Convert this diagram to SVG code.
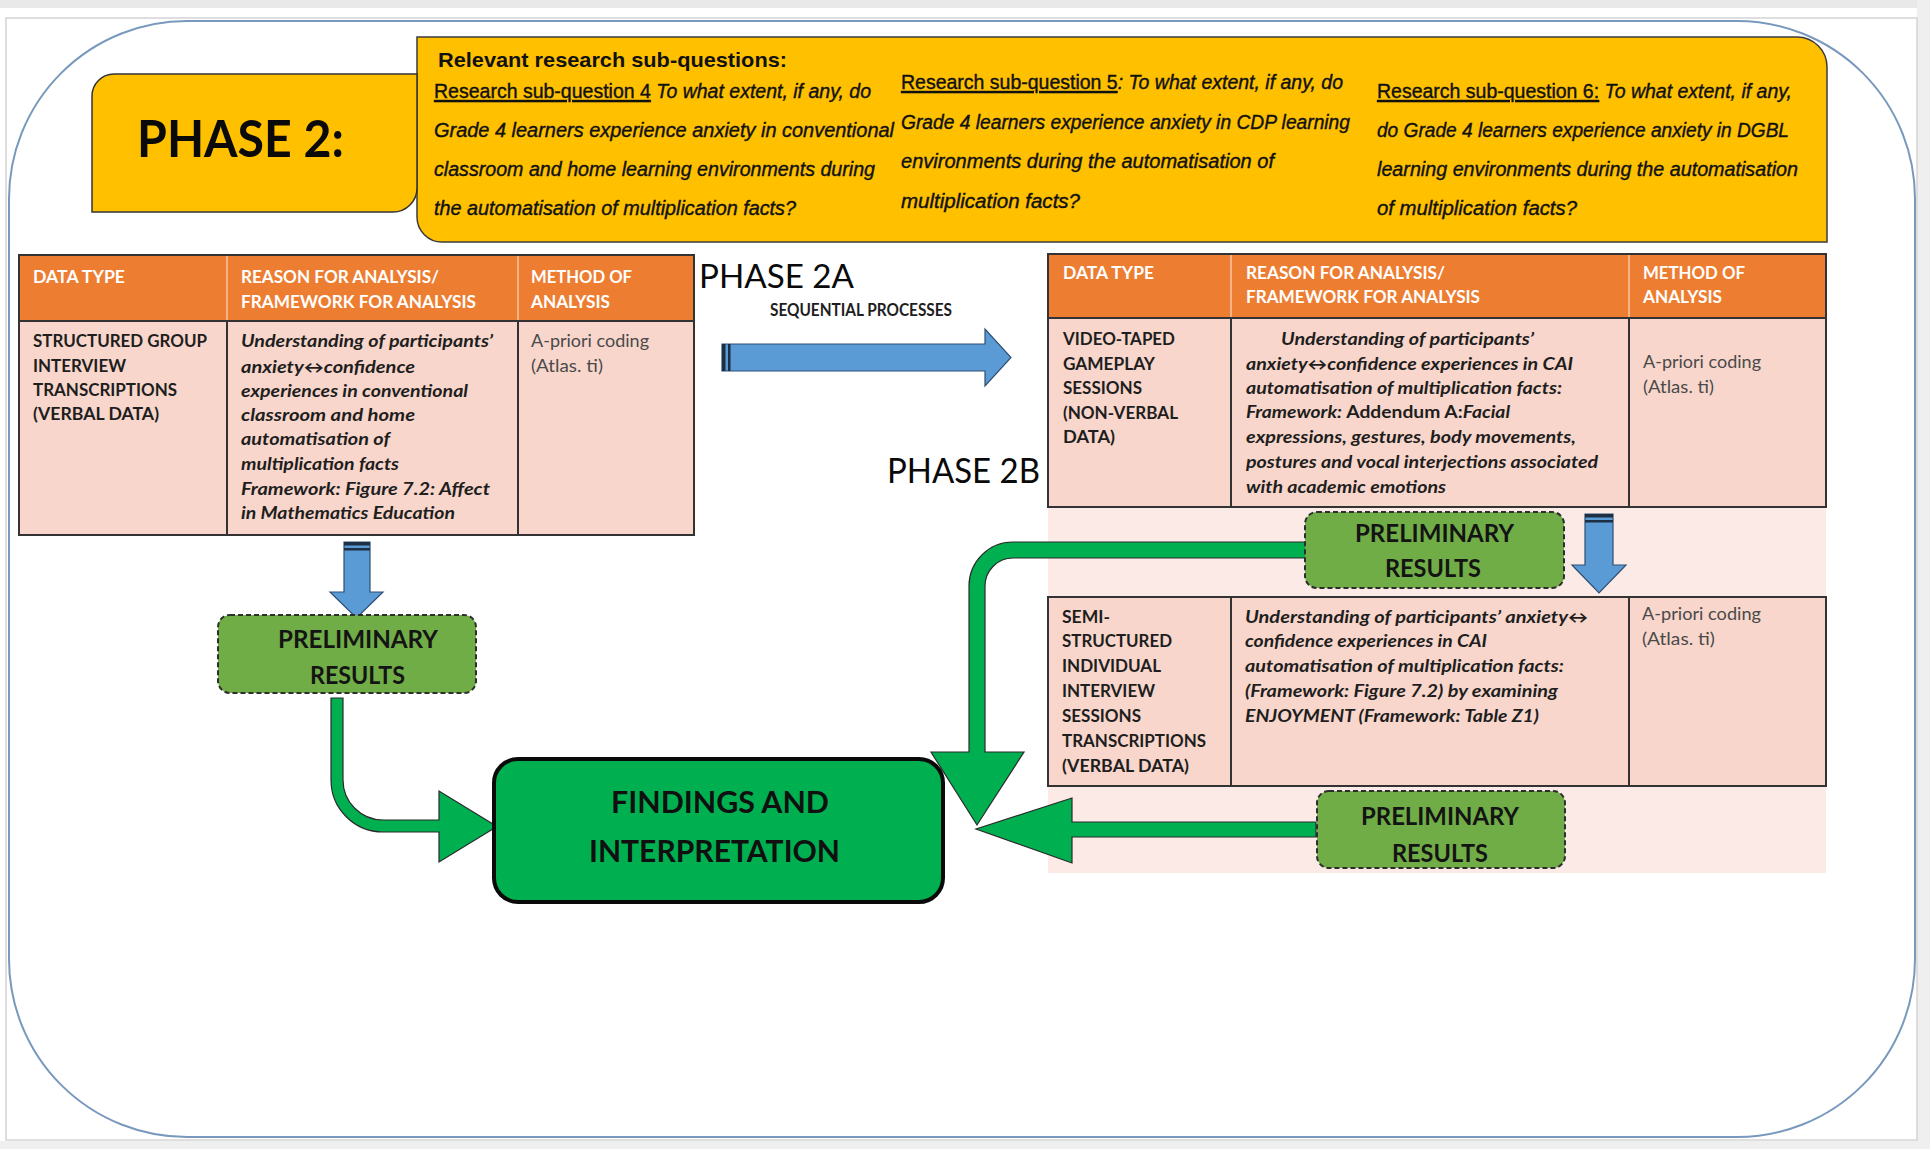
<svg xmlns="http://www.w3.org/2000/svg" width="1930" height="1149" viewBox="0 0 1930 1149">
  <style>
    .hd { font-family: Lato, "Open Sans", sans-serif; font-weight: bold; font-size: 16.5px; fill: #ffffff; }
    .b  { font-family: Lato, "Open Sans", sans-serif; font-weight: bold; font-size: 16.5px; fill: #1e1e1e; }
    .bi { font-family: Lato, "Open Sans", sans-serif; font-weight: bold; font-style: italic; font-size: 16.5px; fill: #1e1e1e; }
    .up { font-style: normal; }
    .r  { font-family: Lato, "Open Sans", sans-serif; font-size: 16.5px; fill: #4a4a4a; }
    .q  { font-family: "Liberation Sans Narrow", "Liberation Sans", Arial, sans-serif; font-style: italic; font-size: 20.5px; fill: #111111; stroke: #111111; stroke-width: 0.4; }
    .ql { font-style: normal; text-decoration: underline; }
    .qh { font-family: "Liberation Sans", Arial, sans-serif; font-weight: bold; font-size: 21px; fill: #111111; }
    .pr { font-family: Lato, "Open Sans", sans-serif; font-weight: bold; font-size: 24px; fill: #141414; }
    .fi { font-family: Lato, "Open Sans", sans-serif; font-weight: bold; font-size: 31px; fill: #101010; }
    .ph { font-family: Lato, "Open Sans", sans-serif; fill: #0a0a0a; }
    .hdr { fill: #ED7D31; }
    .body { fill: #F8D6CB; }
    .pale { fill: #FBEAE6; }
    .grid { stroke: #333333; stroke-width: 2; fill: none; }
    .hgrid { stroke: #F6C7A6; stroke-width: 1.5; }
    .prelim { fill: #70AD47; stroke: #2e2e2e; stroke-width: 2; stroke-dasharray: 5 3; }
    .green { fill: #00B050; stroke: #2a2a2a; stroke-width: 1.2; stroke-linejoin: miter; }
    .blue { fill: #5B9BD5; stroke: #2E4F73; stroke-width: 1.2; }
    .bar { fill: #1d2f44; }
  </style>

  <!-- page and frame -->
  <rect x="0" y="0" width="1930" height="1149" fill="#ffffff"/>
  <rect x="0" y="0" width="1930" height="8" fill="#e9e9e9"/>
  <rect x="1917" y="0" width="13" height="1149" fill="#efefef"/>
  <rect x="0" y="1141" width="1930" height="8" fill="#efefef"/>
  <rect x="6" y="18" width="1911" height="1122" fill="#ffffff" stroke="#d4d4d4" stroke-width="1.5"/>
  <rect x="9" y="21" width="1906" height="1116" rx="178" ry="178" fill="none" stroke="#7899bd" stroke-width="2"/>

  <!-- research sub-questions panel -->
  <g id="subquestions">
    <path d="M417,37 H1797 A30,30 0 0 1 1827,67 V242 H442 A25,25 0 0 1 417,217 Z" fill="#FFC000" stroke="#3b3b3b" stroke-width="1.5"/>
    <text class="qh" x="438" y="67" textLength="349" lengthAdjust="spacingAndGlyphs">Relevant research  sub-questions:</text>

    <text class="q" x="434" y="98" textLength="437" lengthAdjust="spacingAndGlyphs"><tspan class="ql">Research sub-question 4</tspan> To what extent, if any, do</text>
    <text class="q" x="434" y="137" textLength="460" lengthAdjust="spacingAndGlyphs">Grade 4 learners  experience anxiety in conventional</text>
    <text class="q" x="434" y="176" textLength="441" lengthAdjust="spacingAndGlyphs">classroom and home learning environments during</text>
    <text class="q" x="434" y="215" textLength="362" lengthAdjust="spacingAndGlyphs">the automatisation of multiplication facts?</text>

    <text class="q" x="901" y="89" textLength="442" lengthAdjust="spacingAndGlyphs"><tspan class="ql">Research sub-question 5</tspan>: To what extent, if any, do</text>
    <text class="q" x="901" y="129" textLength="449" lengthAdjust="spacingAndGlyphs">Grade 4 learners  experience anxiety in CDP learning</text>
    <text class="q" x="901" y="168" textLength="373" lengthAdjust="spacingAndGlyphs">environments during the automatisation of</text>
    <text class="q" x="901" y="208" textLength="179" lengthAdjust="spacingAndGlyphs">multiplication facts?</text>

    <text class="q" x="1377" y="98" textLength="415" lengthAdjust="spacingAndGlyphs"><tspan class="ql">Research sub-question 6:</tspan> To what extent, if any,</text>
    <text class="q" x="1377" y="137" textLength="412" lengthAdjust="spacingAndGlyphs">do Grade  4 learners experience anxiety in DGBL</text>
    <text class="q" x="1377" y="176" textLength="421" lengthAdjust="spacingAndGlyphs">learning environments during the automatisation</text>
    <text class="q" x="1377" y="215" textLength="200" lengthAdjust="spacingAndGlyphs">of multiplication facts?</text>
  </g>

  <!-- phase title -->
  <g id="phase2-title">
    <path d="M92,96 A22,22 0 0 1 114,74 H417 V188 A24,24 0 0 1 393,212 H92 Z" fill="#FFC000" stroke="#333333" stroke-width="1.5"/>
    <text class="ph" x="137" y="157" font-size="52" font-weight="bold" textLength="207" lengthAdjust="spacingAndGlyphs">PHASE 2:</text>
  </g>

  <!-- phase 2A analysis table -->
  <g id="table-2a">
    <rect class="hdr" x="19" y="255" width="675" height="66"/>
    <rect class="body" x="19" y="321" width="675" height="214"/>
    <line class="hgrid" x1="227" y1="256" x2="227" y2="320"/>
    <line class="hgrid" x1="518" y1="256" x2="518" y2="320"/>
    <path class="grid" d="M227,321 V535 M518,321 V535 M19,321 H694"/>
    <rect class="grid" x="19" y="255" width="675" height="280"/>

    <text class="hd" x="33" y="283" textLength="92" lengthAdjust="spacingAndGlyphs">DATA TYPE</text>
    <text class="hd" x="241" y="283" textLength="198" lengthAdjust="spacingAndGlyphs">REASON FOR ANALYSIS/</text>
    <text class="hd" x="241" y="308" textLength="235" lengthAdjust="spacingAndGlyphs">FRAMEWORK FOR ANALYSIS</text>
    <text class="hd" x="531" y="283" textLength="101" lengthAdjust="spacingAndGlyphs">METHOD OF</text>
    <text class="hd" x="531" y="308" textLength="79" lengthAdjust="spacingAndGlyphs">ANALYSIS</text>

    <text class="b" x="33" y="347" textLength="174" lengthAdjust="spacingAndGlyphs">STRUCTURED GROUP</text>
    <text class="b" x="33" y="372" textLength="93" lengthAdjust="spacingAndGlyphs">INTERVIEW</text>
    <text class="b" x="33" y="396" textLength="144" lengthAdjust="spacingAndGlyphs">TRANSCRIPTIONS</text>
    <text class="b" x="33" y="420" textLength="126" lengthAdjust="spacingAndGlyphs">(VERBAL DATA)</text>

    <text class="bi" x="241" y="347" textLength="252" lengthAdjust="spacingAndGlyphs">Understanding of participants’</text>
    <text class="bi" x="241" y="373" textLength="174" lengthAdjust="spacingAndGlyphs">anxiety↔confidence</text>
    <text class="bi" x="241" y="397" textLength="227" lengthAdjust="spacingAndGlyphs">experiences in conventional</text>
    <text class="bi" x="241" y="421" textLength="174" lengthAdjust="spacingAndGlyphs">classroom  and home</text>
    <text class="bi" x="241" y="445" textLength="149" lengthAdjust="spacingAndGlyphs">automatisation of</text>
    <text class="bi" x="241" y="470" textLength="158" lengthAdjust="spacingAndGlyphs">multiplication facts</text>
    <text class="bi" x="241" y="495" textLength="249" lengthAdjust="spacingAndGlyphs">Framework:  Figure 7.2: Affect</text>
    <text class="bi" x="241" y="519" textLength="214" lengthAdjust="spacingAndGlyphs">in Mathematics Education</text>

    <text class="r" x="531" y="347" textLength="118" lengthAdjust="spacingAndGlyphs">A-priori coding</text>
    <text class="r" x="531" y="372" textLength="72" lengthAdjust="spacingAndGlyphs">(Atlas. ti)</text>
  </g>

  <!-- phase labels -->
  <g id="label-phase2a">
    <text class="ph" x="699" y="288" font-size="32" textLength="155" lengthAdjust="spacingAndGlyphs">PHASE 2A</text>
    <text class="b" x="770" y="316" font-size="17" fill="#333333" textLength="182" lengthAdjust="spacingAndGlyphs">SEQUENTIAL PROCESSES</text>
  </g>
  <g id="label-phase2b">
    <text class="ph" x="887" y="483" font-size="35" textLength="153" lengthAdjust="spacingAndGlyphs">PHASE 2B</text>
  </g>

  <!-- phase 2B analysis table -->
  <g id="table-2b">
    <rect class="pale" x="1048" y="507" width="778" height="90"/>
    <rect class="pale" x="1048" y="786" width="778" height="87"/>
    <rect class="hdr" x="1048" y="254" width="778" height="64"/>
    <rect class="body" x="1048" y="318" width="778" height="189"/>
    <rect class="body" x="1048" y="597" width="778" height="189"/>
    <line class="hgrid" x1="1231" y1="255" x2="1231" y2="317"/>
    <line class="hgrid" x1="1629" y1="255" x2="1629" y2="317"/>
    <path class="grid" d="M1048,318 H1826 M1231,318 V507 M1629,318 V507 M1231,597 V786 M1629,597 V786"/>
    <rect class="grid" x="1048" y="254" width="778" height="253"/>
    <rect class="grid" x="1048" y="597" width="778" height="189"/>

    <text class="hd" x="1063" y="279" textLength="91" lengthAdjust="spacingAndGlyphs">DATA TYPE</text>
    <text class="hd" x="1246" y="279" textLength="199" lengthAdjust="spacingAndGlyphs">REASON FOR ANALYSIS/</text>
    <text class="hd" x="1246" y="303" textLength="234" lengthAdjust="spacingAndGlyphs">FRAMEWORK FOR ANALYSIS</text>
    <text class="hd" x="1643" y="279" textLength="102" lengthAdjust="spacingAndGlyphs">METHOD OF</text>
    <text class="hd" x="1643" y="303" textLength="79" lengthAdjust="spacingAndGlyphs">ANALYSIS</text>

    <text class="b" x="1063" y="345" textLength="112" lengthAdjust="spacingAndGlyphs">VIDEO-TAPED</text>
    <text class="b" x="1063" y="370" textLength="92" lengthAdjust="spacingAndGlyphs">GAMEPLAY</text>
    <text class="b" x="1063" y="394" textLength="79" lengthAdjust="spacingAndGlyphs">SESSIONS</text>
    <text class="b" x="1063" y="419" textLength="115" lengthAdjust="spacingAndGlyphs">(NON-VERBAL</text>
    <text class="b" x="1063" y="443" textLength="52" lengthAdjust="spacingAndGlyphs">DATA)</text>

    <text class="bi" x="1281" y="345" textLength="253" lengthAdjust="spacingAndGlyphs">Understanding of participants’</text>
    <text class="bi" x="1246" y="370" textLength="327" lengthAdjust="spacingAndGlyphs">anxiety↔confidence experiences in CAI</text>
    <text class="bi" x="1246" y="394" textLength="316" lengthAdjust="spacingAndGlyphs">automatisation of multiplication facts:</text>
    <text class="bi" x="1246" y="418" textLength="264" lengthAdjust="spacingAndGlyphs">Framework: <tspan class="up">Addendum A:</tspan>Facial</text>
    <text class="bi" x="1246" y="443" textLength="330" lengthAdjust="spacingAndGlyphs">expressions, gestures, body movements,</text>
    <text class="bi" x="1246" y="468" textLength="352" lengthAdjust="spacingAndGlyphs">postures and vocal interjections associated</text>
    <text class="bi" x="1246" y="493" textLength="200" lengthAdjust="spacingAndGlyphs">with academic emotions</text>

    <text class="r" x="1643" y="368" textLength="118" lengthAdjust="spacingAndGlyphs">A-priori coding</text>
    <text class="r" x="1643" y="393" textLength="71" lengthAdjust="spacingAndGlyphs">(Atlas. ti)</text>

    <text class="b" x="1062" y="623" textLength="48" lengthAdjust="spacingAndGlyphs">SEMI-</text>
    <text class="b" x="1062" y="647" textLength="110" lengthAdjust="spacingAndGlyphs">STRUCTURED</text>
    <text class="b" x="1062" y="672" textLength="99" lengthAdjust="spacingAndGlyphs">INDIVIDUAL</text>
    <text class="b" x="1062" y="697" textLength="93" lengthAdjust="spacingAndGlyphs">INTERVIEW</text>
    <text class="b" x="1062" y="722" textLength="79" lengthAdjust="spacingAndGlyphs">SESSIONS</text>
    <text class="b" x="1062" y="747" textLength="144" lengthAdjust="spacingAndGlyphs">TRANSCRIPTIONS</text>
    <text class="b" x="1062" y="772" textLength="127" lengthAdjust="spacingAndGlyphs">(VERBAL DATA)</text>

    <text class="bi" x="1245" y="623" textLength="343" lengthAdjust="spacingAndGlyphs">Understanding of participants’ anxiety↔</text>
    <text class="bi" x="1245" y="647" textLength="242" lengthAdjust="spacingAndGlyphs">confidence experiences in CAI</text>
    <text class="bi" x="1245" y="672" textLength="319" lengthAdjust="spacingAndGlyphs">automatisation of multiplication facts:</text>
    <text class="bi" x="1245" y="697" textLength="313" lengthAdjust="spacingAndGlyphs">(Framework: Figure 7.2) by examining</text>
    <text class="bi" x="1245" y="722" textLength="294" lengthAdjust="spacingAndGlyphs">ENJOYMENT (Framework: Table Z1)</text>

    <text class="r" x="1642" y="620" textLength="119" lengthAdjust="spacingAndGlyphs">A-priori coding</text>
    <text class="r" x="1642" y="645" textLength="73" lengthAdjust="spacingAndGlyphs">(Atlas. ti)</text>
  </g>

  <!-- connectors -->
  <g id="connectors">
    <!-- sequential process arrow -->
    <polygon class="blue" points="722,344 985,344 985,329 1011,357.5 985,386 985,371 722,371"/>
    <rect class="bar" x="722" y="344" width="3.5" height="27"/>
    <rect class="bar" x="728" y="344" width="2.5" height="27"/>
    <!-- table 2A to its preliminary results -->
    <polygon class="blue" points="344,542 370,542 370,592 383,592 356.5,618 330,592 344,592"/>
    <rect class="bar" x="344" y="542" width="26" height="3.5"/>
    <rect class="bar" x="344" y="548" width="26" height="2.5"/>
    <!-- table 2B row 1 to row 2 -->
    <polygon class="blue" points="1585,514 1613,514 1613,565 1626,565 1599,593 1572,565 1585,565"/>
    <rect class="bar" x="1585" y="514" width="28" height="3.5"/>
    <rect class="bar" x="1585" y="520" width="28" height="2.5"/>

    <!-- preliminary results 2A to findings -->
    <path class="green" d="M331,698 H343 V780 A40,40 0 0 0 383,820 H439 V791 L497,826.5 L439,862 V832 H383 A52,52 0 0 1 331,780 Z"/>
    <!-- preliminary results 2B (first) to findings -->
    <path class="green" d="M1308,542 H1013 A44,44 0 0 0 969,586 V752 H931 L977,825 L1024,752 H985 V586 A28,28 0 0 1 1013,558 H1308 Z"/>
    <!-- preliminary results 2B (second) to findings -->
    <path class="green" d="M1316,822 H1072 V798 L976,829 L1072,863 V837 H1316 Z"/>
  </g>

  <!-- preliminary results boxes -->
  <g id="prelim-2a">
    <rect class="prelim" x="218" y="615" width="258" height="78" rx="12" ry="12"/>
    <text class="pr" x="278" y="648" textLength="160" lengthAdjust="spacingAndGlyphs">PRELIMINARY</text>
    <text class="pr" x="310" y="684" textLength="95" lengthAdjust="spacingAndGlyphs">RESULTS</text>
  </g>
  <g id="prelim-2b-video">
    <rect class="prelim" x="1305" y="512" width="259" height="76" rx="12" ry="12"/>
    <text class="pr" x="1355" y="542" textLength="159" lengthAdjust="spacingAndGlyphs">PRELIMINARY</text>
    <text class="pr" x="1385" y="577" textLength="96" lengthAdjust="spacingAndGlyphs">RESULTS</text>
  </g>
  <g id="prelim-2b-interview">
    <rect class="prelim" x="1317" y="791" width="248" height="77" rx="12" ry="12"/>
    <text class="pr" x="1361" y="825" textLength="158" lengthAdjust="spacingAndGlyphs">PRELIMINARY</text>
    <text class="pr" x="1392" y="862" textLength="96" lengthAdjust="spacingAndGlyphs">RESULTS</text>
  </g>

  <!-- findings and interpretation -->
  <g id="findings">
    <rect x="494" y="759" width="449" height="143" rx="24" ry="24" fill="#00B050" stroke="#0a0a0a" stroke-width="4"/>
    <text class="fi" x="611" y="813" textLength="218" lengthAdjust="spacingAndGlyphs">FINDINGS AND</text>
    <text class="fi" x="589" y="862" textLength="251" lengthAdjust="spacingAndGlyphs">INTERPRETATION</text>
  </g>
</svg>
